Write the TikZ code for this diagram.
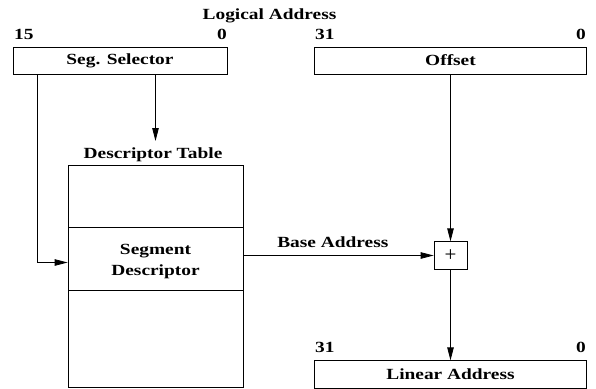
\documentclass[tikz,border=0pt]{standalone}
\usepackage{fontspec}
\setmainfont{Liberation Serif}[FakeStretch=1.25]
\newfontfamily\plainfont{Liberation Serif}
\usetikzlibrary{arrows.meta}
\tikzset{
  lbl/.style={font=\fontsize{15.5pt}{21pt}\selectfont\bfseries, inner sep=0pt},
  box/.style={draw, line width=0.8pt, inner sep=0pt, lbl},
  cell/.style={draw, line width=0.8pt, inner sep=0pt, minimum width=175pt, lbl, align=center},
  conn/.style={line width=0.8pt},
  arr/.style={conn, -{Triangle[length=13pt,width=6.5pt]}},
}
\begin{document}
\begin{tikzpicture}[x=1pt,y=-1pt]
\useasboundingbox (0,0) rectangle (596,388);
% top label
\node[lbl, anchor=base] (logaddr) at (269.5,19) {Logical Address};
% selector and offset boxes
\node[box, minimum width=214pt, minimum height=27pt] (sel) at (120,60.5) {Seg. Selector};
\node[box, minimum width=272pt, minimum height=27pt] (off) at (450.5,60.5) {Offset};
\node[lbl, anchor=base west] (s15) at (14,39) {15};
\node[lbl, anchor=base east] (s0) at (227,39) {0};
\node[lbl, anchor=base west] (o31) at (315,39) {31};
\node[lbl, anchor=base east] (o0) at (586,39) {0};
% descriptor table
\node[lbl, anchor=base] (dtlab) at (153,158) {Descriptor Table};
\node[cell, minimum height=62.5pt] (top) at (155.5,196.25) {};
\node[cell, minimum height=62.5pt] (seg) at (155.5,258.75) {};
\node[lbl, align=center] (segtxt) at ([yshift=-3pt]seg.center) {Segment\\Descriptor};
\node[cell, minimum height=97pt] (bot) at (155.5,338.5) {};
% adder
\node[draw, line width=0.8pt, minimum width=33pt, minimum height=27.5pt, inner sep=0pt, font=\plainfont\fontsize{21pt}{21pt}\selectfont] (plus) at (450.5,255.5) {+};
% linear address
\node[box, minimum width=272pt, minimum height=27.5pt] (lin) at (450.5,374.5) {Linear Address};
\node[lbl, anchor=base west] (l31) at (315,352.5) {31};
\node[lbl, anchor=base east] (l0) at (586,352.5) {0};
% connectors
\coordinate (tip) at (155.5,141);
\coordinate (lx) at (37,262.5);
\draw[arr] (sel.south -| tip) -- (tip);
\draw[arr] (sel.south -| lx) -- (lx) -- (lx -| seg.west);
\draw[arr] (seg.east |- plus) -- node[lbl, above=7pt, pos=0.47] (balab) {Base Address} (plus.west);
\draw[arr] (off.south -| plus) -- (plus.north);
\draw[arr] (plus.south) -- (lin.north);
\end{tikzpicture}
\end{document}
